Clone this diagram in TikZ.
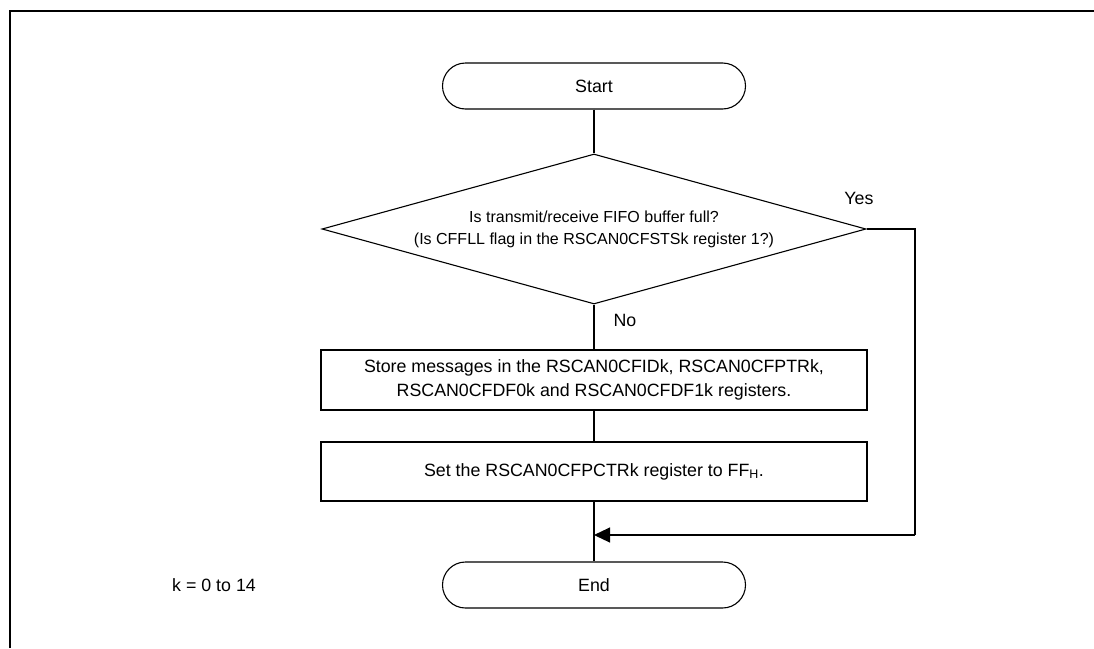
\documentclass[tikz,border=0pt]{standalone}
\usepackage{fontspec}
\setmainfont{Liberation Sans}
\usetikzlibrary{shapes.geometric,arrows.meta}
\tikzset{
  ln/.style={line width=1.1pt},
  term/.style={draw, ln, rectangle, rounded corners=23pt, minimum width=303pt, minimum height=46pt, inner sep=0pt, font=\fontsize{17.8}{23}\selectfont},
  proc/.style={draw, ln, rectangle, minimum width=546pt, inner sep=0pt, align=center, font=\fontsize{17.8}{24}\selectfont},
  dec/.style={draw, ln, diamond, aspect=3.63, minimum width=544pt, minimum height=150pt, inner sep=0pt, align=center, font=\fontsize{16}{22}\selectfont},
  lbl/.style={inner sep=0pt, font=\fontsize{17.8}{23}\selectfont},
  conn/.style={ln},
  arr/.style={ln, -{Triangle[length=16pt,width=15pt]}}
}
\begin{document}
\begin{tikzpicture}[x=1pt,y=-1pt]
\useasboundingbox (0,0) rectangle (1094,648);
% partial frame
\draw[line width=2.6pt] (10,648) -- (10,11) -- (1094,11);
\node[term] (start) at (594,86) {Start};
\node[dec] (d) at (594,229) {Is transmit/receive FIFO buffer full?\\(Is CFFLL flag in the RSCAN0CFSTSk register 1?)};
\node[proc, minimum height=60pt] (b1) at (594,380) {Store messages in the RSCAN0CFIDk, RSCAN0CFPTRk,\\RSCAN0CFDF0k and RSCAN0CFDF1k registers.};
\node[proc, minimum height=59pt] (b2) at (594,471.5) {Set the RSCAN0CFPCTRk register to FF\textsubscript{H}.};
\node[term] (end) at (594,585) {End};
\node[lbl] (yes) at (859,198) {Yes};
\node[lbl] (no) at (625,320) {No};
\node[lbl, anchor=west] (k) at (172,585) {k = 0 to 14};
\coordinate (c1) at (915,229);
\coordinate (c2) at (915,535);
\coordinate (m) at (594,535);
\draw[conn] (start.south) -- (d.north);
\draw[conn] (d.south) -- (b1.north);
\draw[conn] (b1.south) -- (b2.north);
\draw[conn] (b2.south) -- (end.north);
\draw[conn] (d.east) -- (c1) -- (c2);
\draw[arr] (c2) -- (m);
\end{tikzpicture}
\end{document}
